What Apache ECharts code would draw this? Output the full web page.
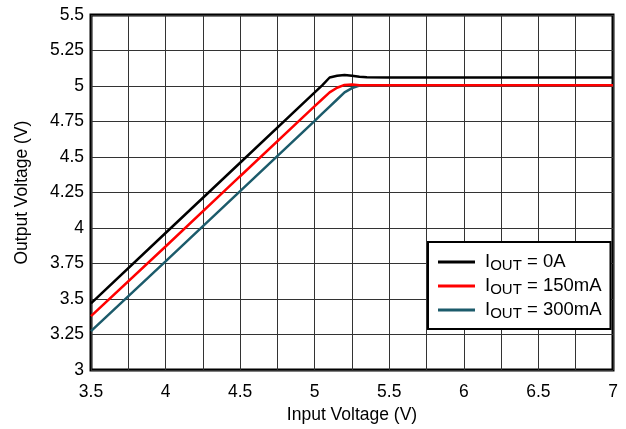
<!DOCTYPE html>
<html><head><meta charset="utf-8">
<script src="https://cdn.jsdelivr.net/npm/echarts@6/dist/echarts.min.js"></script>
<style>html,body{margin:0;padding:0;background:#fff}#c{width:626px;height:429px}</style>
</head><body><div id="c"></div>
<script>
const vin      = [3.5, 4.0, 4.5, 5.0, 5.05, 5.1, 5.15, 5.2, 5.25, 5.3, 5.35, 5.5, 6.0, 6.5, 7.0];
const vout0    = [3.47, 3.965, 4.46, 4.955, 5.005, 5.06, 5.072, 5.078, 5.072, 5.065, 5.062, 5.06, 5.06, 5.06, 5.06];
const vout150  = [3.38, 3.87, 4.365, 4.858, 4.907, 4.955, 4.988, 5.008, 5.01, 5.006, 5.005, 5.005, 5.005, 5.005, 5.005];
const vout300  = [3.275, 3.765, 4.26, 4.755, 4.805, 4.855, 4.905, 4.955, 4.985, 5.003, 5.005, 5.005, 5.005, 5.005, 5.005];
const seriesNames = ['0A', '150mA', '300mA'];
const colors = ['#000000', '#ff0000', '#1c5b6b'];
const xTicks = [3.5, 4, 4.5, 5, 5.5, 6, 6.5, 7];

const pair = (ys) => vin.map((x, i) => [x, ys[i]]);
const chart = echarts.init(document.getElementById('c'), null, {renderer: 'canvas'});
const font = 'Liberation Sans, Arial, sans-serif';
chart.setOption({
  animation: false,
  textStyle: {fontFamily: font},
  grid: {left: 91, right: 13, top: 15, bottom: 57, show: true, borderColor: '#000', borderWidth: 3, backgroundColor: 'transparent'},
  xAxis: {
    type: 'value', min: 3.5, max: 7, interval: 0.25,
    name: 'Input Voltage (V)', nameLocation: 'middle', nameGap: 33,
    nameTextStyle: {fontSize: 17.5, color: '#000', fontFamily: font},
    axisLine: {show: false}, axisTick: {show: false},
    axisLabel: {fontSize: 17.5, color: '#000', fontFamily: font, margin: 13,
      formatter: v => xTicks.some(t => Math.abs(t - v) < 1e-6) ? String(v) : ''},
    splitLine: {show: true, lineStyle: {color: '#333', width: 1}}
  },
  yAxis: {
    type: 'value', min: 3, max: 5.5, interval: 0.25,
    name: 'Output Voltage (V)', nameLocation: 'middle', nameGap: 60,
    nameTextStyle: {fontSize: 17.5, color: '#000', fontFamily: font},
    axisLine: {show: false}, axisTick: {show: false},
    axisLabel: {fontSize: 17.5, color: '#000', fontFamily: font, margin: 7},
    splitLine: {show: true, lineStyle: {color: '#333', width: 1}}
  },
  legend: {
    orient: 'vertical', left: 428, top: 242,
    padding: [9, 9, 8, 10], itemGap: 2,
    backgroundColor: '#fff', borderColor: '#000', borderWidth: 2,
    itemWidth: 37, itemHeight: 3, icon: 'rect',
    data: seriesNames,
    formatter: n => '{g|}{i|I}{s|OUT}{i| = ' + n + '}',
    textStyle: {
      color: '#000', fontFamily: font,
      rich: {
        g: {width: 5, lineHeight: 21},
        i: {fontSize: 18.5, fontFamily: font, color: '#000', lineHeight: 21},
        s: {fontSize: 15, fontFamily: font, color: '#000', lineHeight: 21, padding: [7, 0, 0, 0]}
      }
    }
  },
  series: [vout0, vout150, vout300].map((ys, k) => ({
    name: seriesNames[k], type: 'line', data: pair(ys), showSymbol: false, symbol: 'none',
    lineStyle: {color: colors[k], width: 2.5}, itemStyle: {color: colors[k]}, z: 3 - k
  }))
});
</script></body></html>
